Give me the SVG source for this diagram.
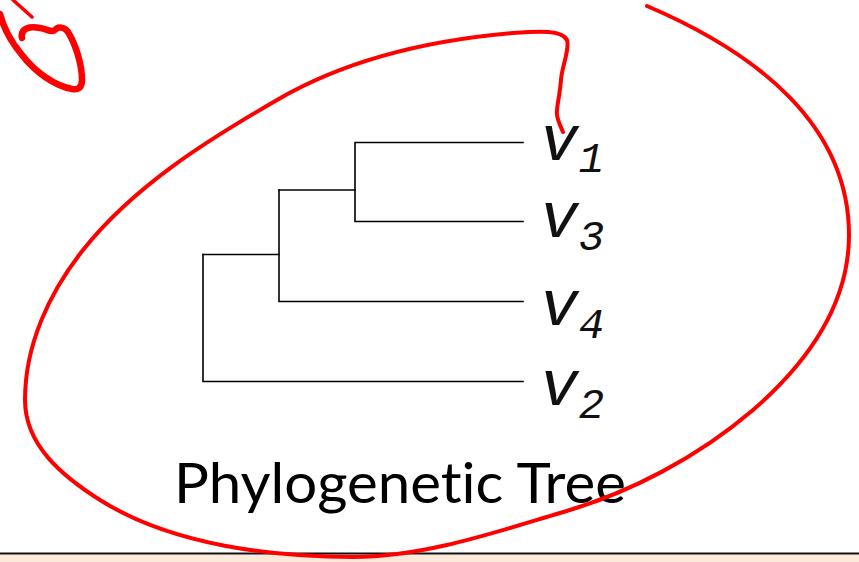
<svg xmlns="http://www.w3.org/2000/svg" width="859" height="562" viewBox="0 0 859 562">
  <style>
    .branch { fill: none; stroke: #000; stroke-width: 1.6; stroke-linecap: square; }
    .leaf { font-family: "Liberation Mono", "Courier New", monospace; font-style: italic; font-size: 64px; fill: #111; }
    .sub { font-size: 43px; }
    .title { font-family: Lato, "Open Sans", sans-serif; font-size: 56px; fill: #000; font-variant-ligatures: none; font-feature-settings: "liga" 0, "clig" 0; }
    .ink { fill: none; stroke: #ff0000; stroke-linecap: round; stroke-linejoin: round; }
  </style>

  <!-- page background and footer band -->
  <rect x="0" y="0" width="859" height="562" fill="#fff"/>
  <rect x="0" y="554.5" width="859" height="8" fill="#fde9d9"/>
  <line x1="0" y1="553.5" x2="859" y2="553.5" stroke="#111" stroke-width="2"/>

  <!-- tree branches -->
  <g id="connectors">
    <path class="branch" d="M355,142.5 H523 M355,142.5 V221.5 H523"/>
    <path class="branch" d="M279,190 H355"/>
    <path class="branch" d="M279,190 V301.5 H523"/>
    <path class="branch" d="M203,254.5 H279"/>
    <path class="branch" d="M203,254.5 V381.5 H523"/>
  </g>

  <g id="leaf-v1"><text class="leaf" x="540" y="160">v<tspan class="sub" dy="12">1</tspan></text></g>
  <g id="leaf-v3"><text class="leaf" x="540" y="237">v<tspan class="sub" dy="13">3</tspan></text></g>
  <g id="leaf-v4"><text class="leaf" x="540" y="325">v<tspan class="sub" dy="13">4</tspan></text></g>
  <g id="leaf-v2"><text class="leaf" x="540" y="405">v<tspan class="sub" dy="13">2</tspan></text></g>

  <g id="title"><text class="title" x="174" y="503" textLength="452" lengthAdjust="spacingAndGlyphs">Phylogenetic Tree</text></g>

  <!-- hand-drawn annotation strokes -->
  <g id="annotation">
    <path class="ink" stroke-width="4" d="M647,6 C757,53 849,125 849,235 C849,305 806,364 753,410 C698,457 630,493 560,513 C493,533 423,557 353,557 C275,557 173,546 100,500 C62,476 25,445 25,400 C25,345 49,293 83,250 C134,186 206,141 277,100 C347,59 431,40 513,33 C540,31 562,30 567,40 C570,50 562,65 561,80 C560,95 556,108 557,115 C558,122 561,127 563,132"/>
    <path class="ink" stroke-width="6.5" d="M22,38 C20,28 30,26 40,28 C47,29 52,33 55,30 C58,26 65,27 68,32 C76,45 82,65 82,80 C82,88 78,90 72,89 C55,86 35,72 22,55 C12,43 4,30 0,14"/>
    <path class="ink" stroke-width="3.5" d="M13,0 L32,17"/>
  </g>
</svg>
